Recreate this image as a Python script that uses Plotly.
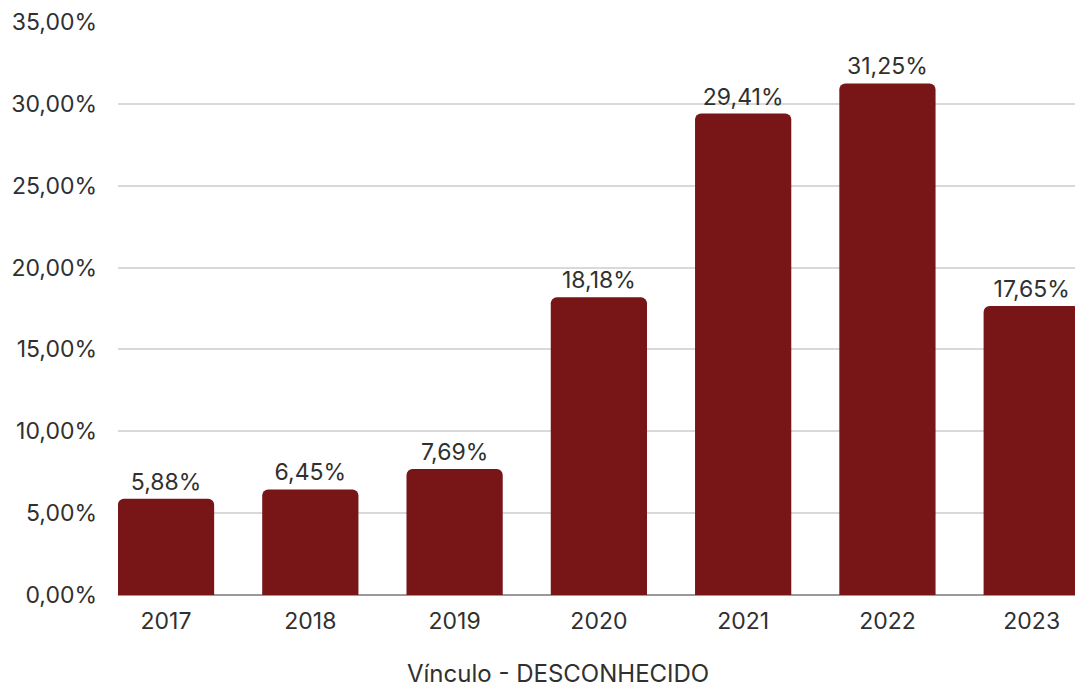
import plotly.graph_objects as go

years = ["2017", "2018", "2019", "2020", "2021", "2022", "2023"]
values = [5.88, 6.45, 7.69, 18.18, 29.41, 31.25, 17.65]
y_ticks = [0, 5, 10, 15, 20, 25, 30, 35]
y_tick_labels = ["0,00%", "5,00%", "10,00%", "15,00%", "20,00%", "25,00%", "30,00%", "35,00%"]
x_title = "Vínculo - DESCONHECIDO"

FONT = "Inter, Open Sans, sans-serif"
TXT = "#303030"

fig = go.Figure(go.Bar(
    x=years, y=values,
    width=0.667,
    marker=dict(color="#771517", cornerradius=6, line=dict(width=0)),
    texttemplate="%{y:.2f}%",
    textposition="outside",
    textfont=dict(family=FONT, size=23, color=TXT),
    cliponaxis=False,
))

fig.update_layout(
    width=1075, height=687,
    margin=dict(l=118, r=0, t=22, b=92),
    paper_bgcolor="white", plot_bgcolor="white",
    separators=",.",
    showlegend=False,
    font=dict(family=FONT, color=TXT),
    xaxis=dict(
        type="category", range=[-0.333, 6.3],
        showgrid=False, showline=False, ticks="",
        tickfont=dict(family=FONT, size=23, color=TXT),
        ticklabelstandoff=10,
    ),
    yaxis=dict(
        range=[0, 35], tickvals=y_ticks, ticktext=y_tick_labels,
        showgrid=True, gridcolor="#d9d9d9", gridwidth=2,
        zeroline=True, zerolinecolor="#9a9a9a", zerolinewidth=2,
        showline=False, ticks="", ticklabelstandoff=20,
        tickfont=dict(family=FONT, size=23, color=TXT),
    ),
    annotations=[dict(
        text=x_title, xref="paper", yref="paper",
        x=(558 - 118) / 957, y=-(673 - 595) / 573,
        xanchor="center", yanchor="middle", showarrow=False,
        font=dict(family=FONT, size=24, color=TXT),
    )],
)

fig.write_html(
    "out.html",
    config={"displayModeBar": False},
    post_script="document.body.style.margin='0';document.body.style.overflow='hidden';",
)
